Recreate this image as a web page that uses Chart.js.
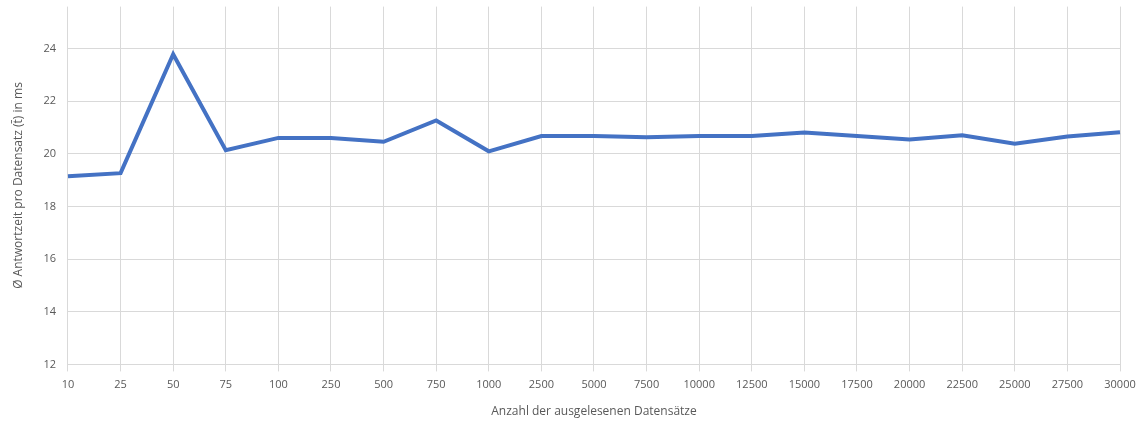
<!DOCTYPE html>
<html>
<head>
<meta charset="utf-8">
<script src="https://cdn.jsdelivr.net/npm/chart.js@4/dist/chart.umd.min.js"></script>
<style>
  html, body { margin: 0; padding: 0; background: #fff; }
  #wrap { width: 1148px; height: 421px; overflow: hidden; }
  #chart { display: block; margin-top: -12px; }
</style>
</head>
<body>
<div id="wrap"><canvas id="chart" width="1148" height="433"></canvas></div>
<script>
// --- Data ---
const categories = ['10', '25', '50', '75', '100', '250', '500', '750', '1000', '2500', '5000',
  '7500', '10000', '12500', '15000', '17500', '20000', '22500', '25000', '27500', '30000'];
const responseTimes = [19.15, 19.27, 23.79, 20.14, 20.61, 20.61, 20.46, 21.27, 20.10, 20.68, 20.68,
  20.63, 20.68, 20.68, 20.81, 20.68, 20.55, 20.71, 20.39, 20.66, 20.82];
const yTicks = [12, 14, 16, 18, 20, 22, 24];

const xTitle = 'Anzahl der ausgelesenen Datensätze';
const yTitle = 'Ø Antwortzeit pro Datensatz (t̄) in ms';

const textGrey = '#595959';
const gridGrey = '#d9d9d9';
const fontFamily = "'Open Sans', 'Noto Sans', sans-serif";

const ctx = document.getElementById('chart').getContext('2d');
new Chart(ctx, {
  type: 'line',
  data: {
    labels: categories,
    datasets: [{
      data: responseTimes,
      borderColor: '#4472C4',
      borderWidth: 4,
      pointRadius: 0,
      tension: 0,
      fill: false
    }]
  },
  options: {
    responsive: false,
    animation: false,
    layout: { padding: { top: 0, right: 28, bottom: 2, left: 11 } },
    plugins: {
      legend: { display: false },
      tooltip: { enabled: false }
    },
    scales: {
      x: {
        offset: false,
        grid: { color: gridGrey, lineWidth: 1, drawTicks: true, tickLength: 7 },
        border: { color: gridGrey },
        ticks: {
          color: textGrey,
          font: { family: fontFamily, size: 11 },
          maxRotation: 0,
          autoSkip: false,
          padding: 7
        },
        title: {
          display: true,
          text: xTitle,
          color: textGrey,
          font: { family: fontFamily, size: 12 },
          padding: { top: 6, bottom: 0 }
        }
      },
      y: {
        min: 12,
        max: 25.6,
        afterBuildTicks: (axis) => {
          axis.ticks = yTicks.map(v => ({ value: v }));
        },
        grid: { color: gridGrey, lineWidth: 1, drawTicks: false },
        border: { display: false },
        ticks: {
          color: textGrey,
          font: { family: fontFamily, size: 11 },
          padding: 12
        },
        title: {
          display: true,
          text: yTitle,
          color: textGrey,
          font: { family: fontFamily, size: 12 },
          padding: { top: 0, bottom: 6 }
        }
      }
    }
  }
});
</script>
</body>
</html>
